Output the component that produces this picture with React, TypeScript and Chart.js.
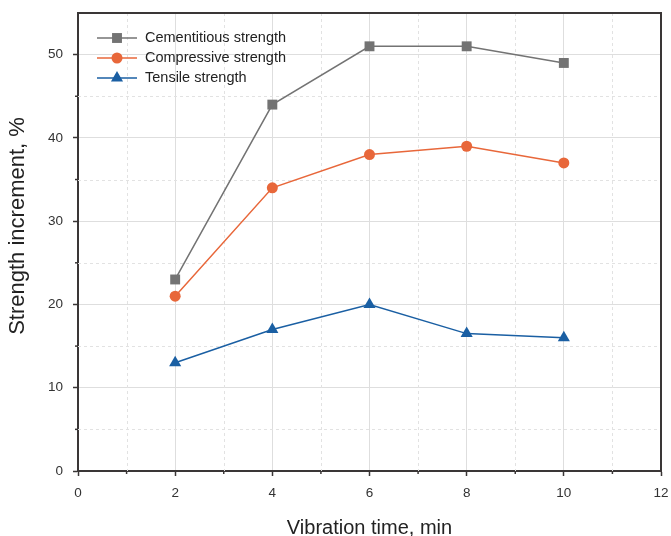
import React, { useEffect, useRef } from "react";
import { Chart, registerables } from "chart.js";

Chart.register(...registerables);

const vibrationTimes = [2, 4, 6, 8, 10];
const cementitious = [23, 44, 51, 51, 49];
const compressive = [21, 34, 38, 39, 37];
const tensile = [13, 17, 20, 16.5, 16];
const seriesNames = ["Cementitious strength", "Compressive strength", "Tensile strength"];
const xTitle = "Vibration time, min";
const yTitle = "Strength increment, %";
const xMinorTicks = [1, 3, 5, 7, 9, 11];
const yMinorTicks = [5, 15, 25, 35, 45];

const FONT = "'Liberation Sans', Arial, sans-serif";
const AXIS_COLOR = "#3a3636";

function drawMarker(ctx: CanvasRenderingContext2D, style: string, x: number, y: number, r: number, color: string) {
  ctx.save();
  ctx.fillStyle = color;
  ctx.beginPath();
  if (style === "rect") {
    const s = r * Math.SQRT1_2;
    ctx.rect(x - s, y - s, 2 * s, 2 * s);
  } else if (style === "circle") {
    ctx.arc(x, y, r, 0, Math.PI * 2);
  } else {
    ctx.moveTo(x, y - r);
    ctx.lineTo(x - r * 0.866, y + r * 0.5);
    ctx.lineTo(x + r * 0.866, y + r * 0.5);
    ctx.closePath();
  }
  ctx.fill();
  ctx.restore();
}

const framePlugin = {
  id: "frameAndMinor",
  beforeDatasetsDraw(chart: any) {
    const { ctx, chartArea, scales } = chart;
    const xs = scales.x;
    const ys = scales.y;
    ctx.save();
    ctx.strokeStyle = "#e2e2e2";
    ctx.lineWidth = 1;
    ctx.setLineDash([3, 3]);
    xMinorTicks.forEach((v) => {
      const px = Math.round(xs.getPixelForValue(v)) + 0.5;
      ctx.beginPath();
      ctx.moveTo(px, chartArea.top);
      ctx.lineTo(px, chartArea.bottom);
      ctx.stroke();
    });
    yMinorTicks.forEach((v) => {
      const py = Math.round(ys.getPixelForValue(v)) + 0.5;
      ctx.beginPath();
      ctx.moveTo(chartArea.left, py);
      ctx.lineTo(chartArea.right, py);
      ctx.stroke();
    });
    ctx.setLineDash([]);
    ctx.restore();
  },
  afterDraw(chart: any) {
    const { ctx, chartArea, scales } = chart;
    const xs = scales.x;
    const ys = scales.y;
    ctx.save();
    ctx.strokeStyle = AXIS_COLOR;
    ctx.lineWidth = 2;
    ctx.beginPath();
    ctx.moveTo(chartArea.left, chartArea.top);
    ctx.lineTo(chartArea.right, chartArea.top);
    ctx.lineTo(chartArea.right, chartArea.bottom);
    ctx.stroke();
    ctx.lineWidth = 1.5;
    xMinorTicks.forEach((v) => {
      const px = xs.getPixelForValue(v);
      ctx.beginPath();
      ctx.moveTo(px, chartArea.bottom);
      ctx.lineTo(px, chartArea.bottom + 3);
      ctx.stroke();
    });
    yMinorTicks.forEach((v) => {
      const py = ys.getPixelForValue(v);
      ctx.beginPath();
      ctx.moveTo(chartArea.left, py);
      ctx.lineTo(chartArea.left - 3, py);
      ctx.stroke();
    });
    // y-axis title
    ctx.save();
    ctx.translate(18, 226);
    ctx.rotate(-Math.PI / 2);
    ctx.fillStyle = "#222";
    ctx.font = `22px ${FONT}`;
    ctx.textAlign = "center";
    ctx.textBaseline = "middle";
    ctx.fillText(yTitle, 0, 0);
    ctx.restore();
    // legend
    const rows = [38, 58, 78];
    chart.data.datasets.forEach((ds: any, i: number) => {
      const y = rows[i];
      ctx.strokeStyle = ds.borderColor;
      ctx.lineWidth = 1.5;
      ctx.beginPath();
      ctx.moveTo(97, y);
      ctx.lineTo(137, y);
      ctx.stroke();
      drawMarker(ctx, ds.pointStyle, 117, y, ds.pointRadius, ds.pointBackgroundColor);
      ctx.fillStyle = "#222";
      ctx.font = `14.5px ${FONT}`;
      ctx.textBaseline = "middle";
      ctx.textAlign = "left";
      ctx.fillText(ds.label, 145, y);
    });
    ctx.restore();
  },
};

export default function App() {
  const ref = useRef<HTMLCanvasElement>(null);
  useEffect(() => {
    if (!ref.current) return;
    const mk = (label: string, data: number[], color: string, style: string, r: number) => ({
      label,
      data: vibrationTimes.map((x, i) => ({ x, y: data[i] })),
      borderColor: color,
      backgroundColor: color,
      pointBackgroundColor: color,
      pointBorderColor: color,
      pointBorderWidth: 0,
      pointStyle: style,
      pointRadius: r,
      borderWidth: 1.5,
      tension: 0,
    });
    const chart = new Chart(ref.current, {
      type: "line",
      data: {
        datasets: [
          mk(seriesNames[0], cementitious, "#737373", "rect", 7),
          mk(seriesNames[1], compressive, "#e8673a", "circle", 5.5),
          mk(seriesNames[2], tensile, "#1a5fa3", "triangle", 7),
        ],
      },
      options: {
        animation: false,
        responsive: false,
        layout: { padding: { top: 13, right: 10, left: 0, bottom: 0 } },
        plugins: { legend: { display: false }, tooltip: { enabled: false } },
        scales: {
          x: {
            type: "linear",
            min: 0,
            max: 12,
            ticks: { stepSize: 2, color: "#333", font: { family: FONT, size: 13.5 }, padding: 9, maxRotation: 0 },
            grid: { color: "#dedede", lineWidth: 1, tickLength: 5, tickColor: AXIS_COLOR, tickWidth: 1.5 },
            border: { color: AXIS_COLOR, width: 2 },
            title: { display: true, text: xTitle, color: "#222", font: { family: FONT, size: 20 }, padding: { top: 10, bottom: -4 } },
            afterFit: (s: any) => { s.height = 65; s.paddingRight = 0; s.paddingLeft = 0; },
          },
          y: {
            type: "linear",
            min: 0,
            max: 55,
            ticks: { stepSize: 10, color: "#333", font: { family: FONT, size: 13.5 }, padding: 10 },
            afterBuildTicks: (s: any) => { s.ticks = s.ticks.filter((t: any) => t.value % 10 === 0); },
            grid: { color: "#dedede", lineWidth: 1, tickLength: 5, tickColor: AXIS_COLOR, tickWidth: 1.5 },
            border: { color: AXIS_COLOR, width: 2 },
            afterFit: (s: any) => { s.width = 78; s.paddingTop = 0; s.paddingBottom = 0; },
          },
        },
      },
      plugins: [framePlugin],
    } as any);
    return () => chart.destroy();
  }, []);
  return (
    <div style={{ position: "fixed", left: 0, top: 0, width: 671, height: 536, background: "#fff" }}>
      <canvas ref={ref} width={671} height={536} style={{ width: 671, height: 536 }} />
    </div>
  );
}
